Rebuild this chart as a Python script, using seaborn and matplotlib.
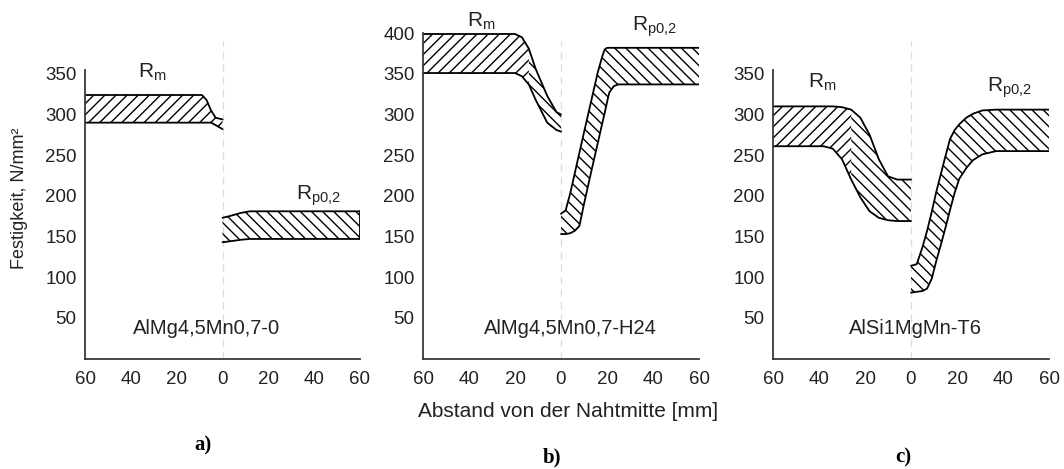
import numpy as np
import matplotlib
matplotlib.use("Agg")
import matplotlib.pyplot as plt
import seaborn as sns

# ---------------- data (N/mm^2 vs. distance from weld centre, mm) ----------------
# Panel a) AlMg4,5Mn0,7-0
a_rm_x = [-60, -9, -7, -5, -3, 0]
a_rm_upper = [324, 324, 318, 305, 296, 294]
a_rm_lower = [290, 290, 290, 290, 287, 282]
a_rp_x = [0, 3, 8, 12, 60]
a_rp_upper = [173, 175, 179, 181, 181]
a_rp_lower = [143, 144, 146, 147, 147]

# Panel b) AlMg4,5Mn0,7-H24
b_rm_x = [-60, -20, -17, -14, -11, -6, -2, 0]
b_rm_upper = [399, 399, 395, 381, 356, 323, 303, 300]
b_rm_lower = [351, 351, 347, 337, 318, 290, 281, 279]
b_rp_x = [0, 2, 4, 6, 8, 10, 13, 16, 18, 19, 20, 21, 23, 25, 60]
b_rp_upper = [178, 182, 203, 228, 253, 278, 315, 352, 372, 380, 382, 382, 382, 382, 382]
b_rp_lower = [153, 153, 154, 157, 163, 190, 228, 265, 290, 302, 315, 327, 335, 337, 337]

# Panel c) AlSi1MgMn-T6
c_rm_x = [-60, -38, -34, -30, -26, -22, -18, -14, -10, -6, 0]
c_rm_upper = [310, 310, 310, 309, 306, 296, 275, 245, 224, 220, 220]
c_rm_lower = [261, 261, 258, 245, 220, 198, 181, 173, 170, 169, 169]
c_rp_x = [0, 2.5, 5, 7, 9, 11, 13, 15, 17, 19, 21, 24, 27, 31, 37, 60]
c_rp_upper = [114, 116, 137, 157, 180, 205, 227, 249, 270, 281, 288, 296, 301, 305, 306, 306]
c_rp_lower = [81, 82, 83, 86, 98, 120, 140, 161, 183, 204, 221, 234, 244, 251, 255, 255]

x_ticks = [-60, -40, -20, 0, 20, 40, 60]
x_tick_labels = ["60", "40", "20", "0", "20", "40", "60"]
alloys = ["AlMg4,5Mn0,7-0", "AlMg4,5Mn0,7-H24", "AlSi1MgMn-T6"]
panel_tags = ["a)", "b)", "c)"]

# ---------------- style ----------------
sns.set_theme(style="white")
plt.rcParams["font.family"] = ["Liberation Sans", "DejaVu Sans"]
plt.rcParams["hatch.linewidth"] = 1.0
plt.rcParams["mathtext.default"] = "regular"

W, H = 1064, 469
fig = plt.figure(figsize=(W / 100, H / 100), dpi=100)

px_per_unit = 0.8133
y0_pix = 358.5
ytop = 410
bottom = (H - y0_pix) / H
height = ytop * px_per_unit / H

HATCH_RM = "///"
HATCH_RP = "\\\\\\"

panels = [
    dict(left=85, right=360, ytop_spine=355, yticks=[50, 100, 150, 200, 250, 300, 350],
         rm=(a_rm_x, a_rm_lower, a_rm_upper), rp=(a_rp_x, a_rp_lower, a_rp_upper),
         split=None, close_rp=True,
         alloy_pos=(-7, 37.5), rm_pos=(-37, 345), rp_pos=(32, 195)),
    dict(left=423, right=699, ytop_spine=400, yticks=[50, 100, 150, 200, 250, 300, 350, 400],
         rm=(b_rm_x, b_rm_lower, b_rm_upper), rp=(b_rp_x, b_rp_lower, b_rp_upper),
         split=-14, close_rp=False,
         alloy_pos=(4, 37.5), rm_pos=(-41, 408), rp_pos=(31, 403)),
    dict(left=773, right=1049, ytop_spine=355, yticks=[50, 100, 150, 200, 250, 300, 350],
         rm=(c_rm_x, c_rm_lower, c_rm_upper), rp=(c_rp_x, c_rp_lower, c_rp_upper),
         split=-26, close_rp=False,
         alloy_pos=(2, 37.5), rm_pos=(-45, 333), rp_pos=(33, 328)),
]

line_kw = dict(color="black", linewidth=1.3, sort=False, estimator=None, legend=False)
spine_color = "#3a3a3a"

axes = []
for i, p in enumerate(panels):
    ax = fig.add_axes([p["left"] / W, bottom, (p["right"] - p["left"]) / W, height])
    axes.append(ax)
    ax.set_xlim(-60, 60)
    ax.set_ylim(0, ytop)
    ax.patch.set_alpha(0)

    # faint centre line
    ax.plot([0, 0], [0, 390], color="#dcdcdc", linewidth=0.9, linestyle=(0, (6, 4)), zorder=0)

    # Rm band
    x, lo, hi = [np.asarray(v, dtype=float) for v in p["rm"]]
    if p["split"] is None:
        ax.fill_between(x, lo, hi, facecolor="none", edgecolor="black", hatch=HATCH_RM, linewidth=0)
    else:
        ax.fill_between(x, lo, hi, where=x <= p["split"], facecolor="none", edgecolor="black",
                        hatch=HATCH_RM, linewidth=0)
        ax.fill_between(x, lo, hi, where=x >= p["split"], facecolor="none", edgecolor="black",
                        hatch=HATCH_RP, linewidth=0)
    sns.lineplot(x=x, y=hi, ax=ax, **line_kw)
    sns.lineplot(x=x, y=lo, ax=ax, **line_kw)

    # Rp0,2 band
    x, lo, hi = [np.asarray(v, dtype=float) for v in p["rp"]]
    ax.fill_between(x, lo, hi, facecolor="none", edgecolor="black", hatch=HATCH_RP, linewidth=0)
    sns.lineplot(x=x, y=hi, ax=ax, **line_kw)
    sns.lineplot(x=x, y=lo, ax=ax, **line_kw)
    if p["close_rp"]:
        ax.plot([x[-1], x[-1]], [lo[-1], hi[-1]], color="black", linewidth=1.3)

    # axes styling
    for s in ["top", "right"]:
        ax.spines[s].set_visible(False)
    ax.spines["left"].set_bounds(0, p["ytop_spine"])
    ax.spines["bottom"].set_bounds(-60, 60)
    for s in ["left", "bottom"]:
        ax.spines[s].set_color(spine_color)
        ax.spines[s].set_linewidth(1.3)
    ax.set_xticks(x_ticks)
    ax.set_xticklabels(x_tick_labels)
    ax.set_yticks(p["yticks"])
    ax.tick_params(axis="both", direction="in", length=5, width=1.2, color=spine_color,
                   labelsize=13.5, labelcolor="#222222", pad=6)
    ax.tick_params(axis="x", pad=9)
    ax.set_xlabel("")
    ax.set_ylabel("")

    # annotations
    ax.text(*p["alloy_pos"], alloys[i], ha="center", va="center", fontsize=14.5, color="#222222")
    ax.text(*p["rm_pos"], r"$\mathregular{R_{m}}$", ha="left", va="baseline",
            fontsize=15, color="#222222")
    ax.text(*p["rp_pos"], r"$\mathregular{R_{p0{,}2}}$", ha="left", va="baseline",
            fontsize=15, color="#222222")

fig.text(20 / W, 1 - 198 / H, "Festigkeit, N/mm²", rotation=90, ha="center", va="center",
         fontsize=13, color="#222222")
fig.text(568 / W, 1 - 411 / H, "Abstand von der Nahtmitte [mm]", ha="center", va="center",
         fontsize=15, color="#222222")

tag_pos = [(203, 445), (552, 457), (903, 457)]
for (tx, ty), tag in zip(tag_pos, panel_tags):
    fig.text(tx / W, 1 - ty / H, tag, ha="center", va="center", fontsize=15,
             fontweight="bold", family=["Liberation Serif", "DejaVu Serif"], color="black")

fig.savefig("out.png", dpi=100, facecolor="white")
